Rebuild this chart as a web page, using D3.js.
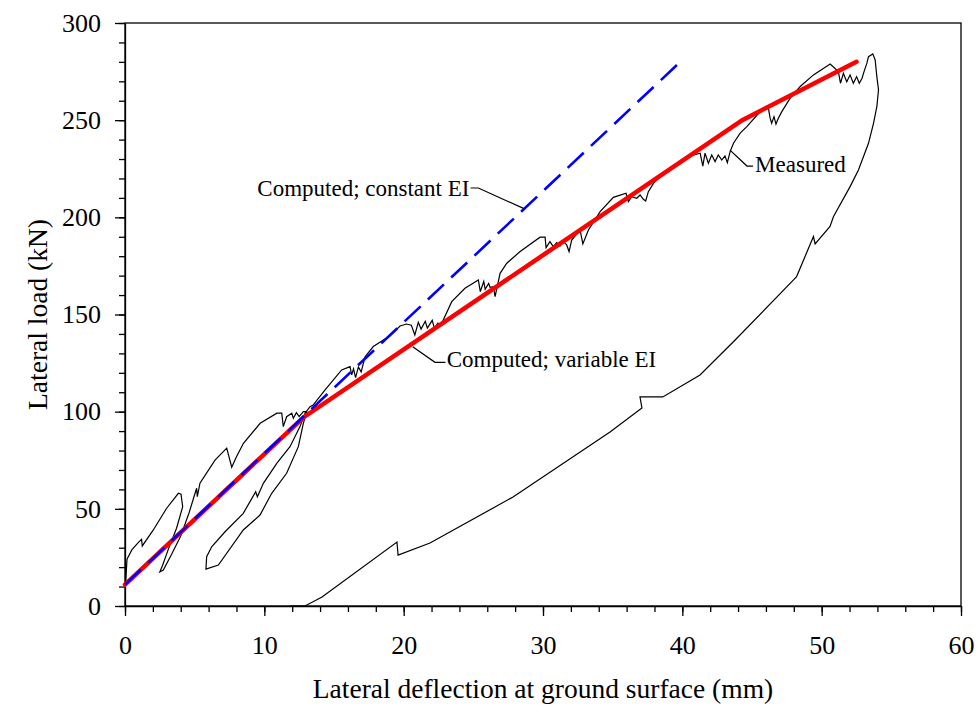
<!DOCTYPE html>
<html>
<head>
<meta charset="utf-8">
<script src="https://cdn.jsdelivr.net/npm/d3@7/dist/d3.min.js"></script>
<style>
  html, body { margin: 0; padding: 0; background: #fff; }
  svg { display: block; }
  text { font-family: "Liberation Serif", "Times New Roman", serif; fill: #000; }
</style>
</head>
<body>
<svg id="chart" width="978" height="713"></svg>
<script>
// Axis ticks
const xTicks = [0, 10, 20, 30, 40, 50, 60];
const xMinorTicks = d3.range(0, 61, 2);
const yTicks = [0, 50, 100, 150, 200, 250, 300];
const yMinorTicks = d3.range(0, 301, 10);

// Computed response, constant EI (mm, kN)
const constantEI = [[0, 11], [40, 281]];

// Computed response, variable EI (mm, kN)
const variableEI = [[0, 11], [12.8, 97], [44.3, 250], [52.5, 280]];

// Measured load-deflection record (mm, kN)
const measured = [
  [0.05,12],[0.14,23.7],[0.17,24.5],[0.5,29],[1.0,33],[1.19,34.3],[1.24,30.9],[2.02,39],[2.99,50.3],[3.83,58],[4.02,57.5],
  [4.14,51.1],[3.7,40],[3.1,29],[2.7,21],[2.5,17.5],[2.75,18.5],
  [3.3,26],[4.0,36],[4.6,48],[5.14,60.6],[5.19,56.3],[5.38,63.2],[6.46,75.1],[7.3,81.2],[7.66,71.4],[8.0,76.8],[8.5,83.7],[9.7,94],[10.9,99.2],[11.25,99.2],[11.36,92.3],[11.6,97.4],[11.97,99.2],[12.08,96.6],[12.3,99.5],[12.5,97.5],[12.8,100],[13.04,100],
  [12.8,94],[12.44,82],[11.6,68.3],[10.53,58],[9.69,46.8],[8.49,39.1],[6.7,21.1],[5.81,19],
  [5.86,25.4],[6.22,30.5],[7.18,38.2],[8.49,47.7],[9.38,58.8],[9.5,56.2],[9.93,63.1],[10.89,73.4],[11.84,82],[12.56,92.3],[12.92,99.2],[13.28,102.6],
  [13.5,103.4],[14.36,111.2],[15.55,121.5],[16.15,123.2],[16.27,118.9],[16.4,122],[16.55,117.5],[16.75,123],[16.95,120.5],[17.23,128.3],[17.82,133.5],[19.02,139],[19.74,144.1],[20.2,145.1],[20.55,144.5],[20.8,139.5],[21.05,146],[21.25,142.5],[21.55,146.5],[21.7,143],[22.05,147],[22.2,143],[22.45,145.5],[22.7,145],
  [23.45,156.6],[24.4,163.5],[25.36,167.8],[25.5,161.8],[25.75,167],[25.85,163],[26.1,166],[26.2,164],[26.44,164.3],[26.56,159.2],[26.92,171.2],[27.4,176.4],[28.36,182.4],[29.79,189.8],[30.15,189.8],[30.22,184.4],[30.5,187.5],[30.74,184.9],[30.98,187],[31.22,185.2],[31.46,187.5],[31.7,185.8],[31.87,182.4],[32.06,188.3],[32.66,193.5],[32.86,186.3],[33.26,193.5],
  [34.1,202.9],[35.05,210.3],[35.96,212.4],[36.13,208.1],[36.37,210.6],[36.73,209.8],[36.97,211.5],[37.2,209.3],[37.37,208.4],[37.56,213.2],[37.93,217.5],[38.65,222.7],[39.84,228.7],[40.8,232.1],[41.28,233],[41.47,226.4],[41.63,233],[41.87,227.8],[42.11,232.1],[42.35,228.7],[42.58,232.1],[42.83,229.5],[43.06,231.6],[43.23,228.1],[43.43,233.8],[43.67,238.1],[44.15,243.3],[44.63,246.7],
  [45.7,255.3],[46.18,256.1],[46.3,251],[46.41,248.4],[46.58,251.8],[46.72,248],[46.89,251],[47.14,254.4],[47.74,261.3],[48.46,267.3],[49.41,273.3],[50.61,278.9],[51.2,275],[51.35,269],[51.56,274.1],[51.8,269.8],[52.04,273.3],[52.27,269],[52.51,272.4],[52.7,269],[52.9,271.6],[53.0,274.1],[53.24,279.2],[53.36,282.7],[53.67,284.1],[53.84,281],[53.96,272.4],[54.08,265.6],
  [53.96,257],[53.72,248.4],[53.36,238.1],[52.64,224.4],[52.04,215.8],[50.85,200.4],[50.6,195.3],[49.53,186.3],[49.41,190.1],[48.2,169.5],[47.98,167.8],[43.79,136.9],[41.27,118.9],[38.6,107.6],[36.96,107.6],[37.1,101.9],[34.81,89.5],[27.85,56.1],[21.89,32.4],[19.6,26.2],[19.52,32.9],[14.14,4.6],[12.92,0],[11.84,0]
];

// Curve labels with their leader lines (data units)
const labels = [
  { text: "Computed; constant EI", anchor: "end",   at: [24.72, 211.2], leader: [[24.8, 215.1], [25.36, 215.1], [28.6, 204.6]] },
  { text: "Computed; variable EI", anchor: "start", at: [23.09, 122.9], leader: [[23.0, 125.4], [22.25, 125.4], [20.65, 133.4]] },
  { text: "Measured",              anchor: "start", at: [45.22, 223.3], leader: [[43.42, 234.6], [44.64, 226.4], [45.07, 226.4]] }
];

const svg = d3.select("#chart");
const x = d3.scaleLinear().domain([0, 60]).range([125, 961]);
const y = d3.scaleLinear().domain([0, 300]).range([606, 23]);
const line = d3.line().x(d => x(d[0])).y(d => y(d[1]));
const serif = '"Liberation Serif", "Times New Roman", serif';

svg.append("rect").attr("width", 978).attr("height", 713).attr("fill", "#fff");

// Frame
svg.append("rect")
  .attr("x", x(0)).attr("y", y(300))
  .attr("width", x(60) - x(0)).attr("height", y(0) - y(300))
  .attr("fill", "none").attr("stroke", "#000").attr("stroke-width", 1.3);

// Minor ticks
svg.append("g").attr("transform", `translate(0,${y(0)})`)
  .call(d3.axisBottom(x).tickValues(xMinorTicks).tickSize(6).tickFormat(""))
  .call(g => g.select(".domain").remove());
svg.append("g").attr("transform", `translate(${x(0)},0)`)
  .call(d3.axisLeft(y).tickValues(yMinorTicks).tickSize(6).tickFormat(""))
  .call(g => g.select(".domain").remove());

// Major ticks and labels
const xAxis = svg.append("g").attr("transform", `translate(0,${y(0)})`)
  .call(d3.axisBottom(x).tickValues(xTicks).tickSizeInner(10).tickSizeOuter(0).tickPadding(20).tickFormat(d3.format("d")));
const yAxis = svg.append("g").attr("transform", `translate(${x(0)},0)`)
  .call(d3.axisLeft(y).tickValues(yTicks).tickSizeInner(10).tickSizeOuter(0).tickPadding(14).tickFormat(d3.format("d")));
[xAxis, yAxis].forEach(g => {
  g.select(".domain").attr("stroke", "#000").attr("stroke-width", 1.3);
  g.selectAll("text").style("font-family", serif).style("font-size", "26px").attr("fill", "#000");
});
svg.selectAll(".tick line").attr("stroke", "#000").attr("stroke-width", 1.3);

// Axis titles
svg.append("text")
  .attr("x", (x(0) + x(60)) / 2).attr("y", 698)
  .attr("text-anchor", "middle").style("font-size", "27.5px")
  .text("Lateral deflection at ground surface (mm)");
svg.append("text")
  .attr("transform", `translate(47,${(y(0) + y(300)) / 2}) rotate(-90)`)
  .attr("text-anchor", "middle").style("font-size", "27.5px")
  .text("Lateral load (kN)");

// Measured curve
svg.append("path").datum(measured)
  .attr("d", line).attr("fill", "none")
  .attr("stroke", "#000").attr("stroke-width", 1.2).attr("stroke-linejoin", "miter");

// Computed, variable EI
svg.append("path").datum(variableEI)
  .attr("d", line).attr("fill", "none")
  .attr("stroke", "#ff0000").attr("stroke-width", 4.5).attr("stroke-linecap", "round");

// Computed, constant EI
svg.append("path").datum(constantEI)
  .attr("d", line).attr("fill", "none")
  .attr("stroke", "#0000ff").attr("stroke-width", 2.6).attr("stroke-dasharray", "22 10");

// Labels and leaders
labels.forEach(l => {
  svg.append("path").datum(l.leader)
    .attr("d", line).attr("fill", "none").attr("stroke", "#000").attr("stroke-width", 1.2);
  svg.append("text")
    .attr("x", x(l.at[0])).attr("y", y(l.at[1]))
    .attr("text-anchor", l.anchor).style("font-size", "23px")
    .text(l.text);
});
</script>
</body>
</html>
